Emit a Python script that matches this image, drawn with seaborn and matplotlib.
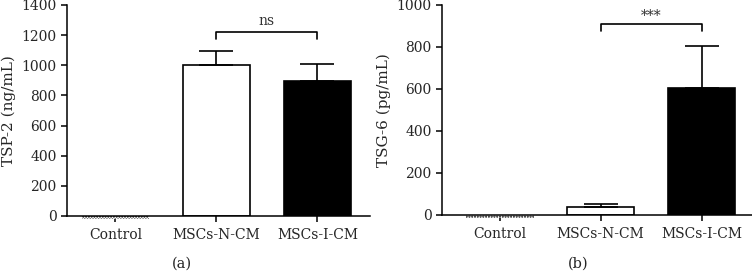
import numpy as np
import pandas as pd
import seaborn as sns
import matplotlib.pyplot as plt

groups = ['Control', 'MSCs-N-CM', 'MSCs-I-CM']

# panel (a): TSP-2
tsp2_mean = [-18, 1000, 895]
tsp2_err = [0, 95, 112]
# panel (b): TSG-6
tsg6_mean = [-13, 37, 606]
tsg6_err = [0, 15, 200]

sns.set_style('ticks')
plt.rcParams['font.family'] = ['DejaVu Serif']
plt.rcParams['font.size'] = 10

fig = plt.figure(figsize=(7.52, 2.72), dpi=100)
ax1 = fig.add_axes([0.089, 0.206, 0.403, 0.776])
ax2 = fig.add_axes([0.588, 0.21, 0.412, 0.772])

colors = ['white', 'white', 'black']


def draw_panel(ax, means, errs, ylabel, ymax, step, sig, y_br, y_tick, y_txt, xlim):
    df = pd.DataFrame({'group': groups, 'value': means})
    sns.barplot(data=df, x='group', y='value', hue='group', palette=colors,
                edgecolor='black', linewidth=1.2, width=0.67, legend=False, ax=ax)
    # control bar: dotted strip just under zero
    ctl = ax.patches[0]
    ctl.set_hatch('......')
    ctl.set_linewidth(0)
    ctl.set_clip_on(False)
    ax.errorbar([1, 2], means[1:], yerr=[[0, 0], errs[1:]], fmt='none',
                ecolor='black', elinewidth=1.2, capsize=12, capthick=1.2)
    ax.plot([1, 1, 2, 2], [y_tick, y_br, y_br, y_tick], color='black', lw=1.2)
    ax.text(1.5, y_txt, sig, ha='center', va='bottom', fontsize=10, color='#333333')
    ax.set_ylim(0, ymax)
    ax.set_yticks(np.arange(0, ymax + 1, step))
    ax.set_xlim(*xlim)
    ax.set_xlabel('')
    ax.set_ylabel(ylabel, fontsize=11)
    ax.tick_params(axis='both', labelsize=10, length=4, width=1.1, color='black')
    ax.tick_params(axis='x', pad=5)
    sns.despine(ax=ax)
    for s in ['left', 'bottom']:
        ax.spines[s].set_linewidth(1.1)
        ax.spines[s].set_color('black')
        ax.spines[s].set_zorder(5)


draw_panel(ax1, tsp2_mean, tsp2_err, 'TSP-2 (ng/mL)', 1400, 200, 'ns',
           1218, 1174, 1250, (-0.48, 2.52))
draw_panel(ax2, tsg6_mean, tsg6_err, 'TSG-6 (pg/mL)', 1000, 200, '***',
           909, 878, 912, (-0.57, 2.5))

fig.text(182 / 752, 1 - 264 / 272, '(a)', ha='center', va='center', fontsize=10.5)
fig.text(578 / 752, 1 - 264 / 272, '(b)', ha='center', va='center', fontsize=10.5)

fig.savefig('out.png', dpi=100)
